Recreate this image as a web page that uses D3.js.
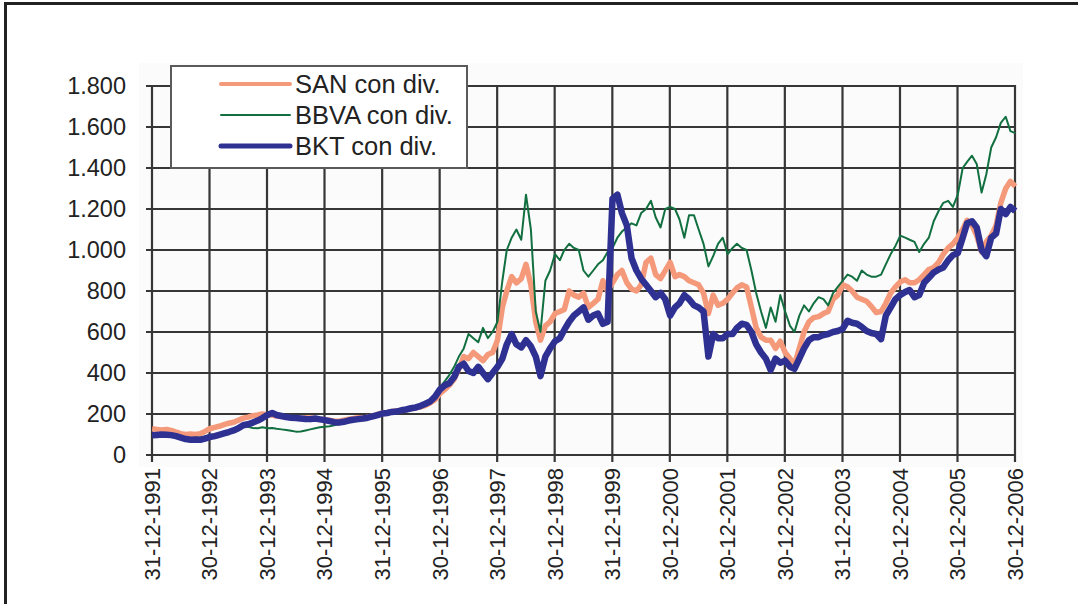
<!DOCTYPE html>
<html lang="es">
<head>
    <meta charset="UTF-8">
    <title>SAN / BBVA / BKT con div.</title>
    <script src="https://d3js.org/d3.v7.min.js"></script>
    <style>
        body { margin: 0; background: #fff; }
        text { font-family: "Liberation Sans", Arial, sans-serif; fill: #222; }
    </style>
</head>
<body>
<script>
    const width  = 1078;
    const height = 604;

    // x tick labels (dates as shown)
    const tickLabels = ["31-12-1991","30-12-1992","30-12-1993","30-12-1994","31-12-1995",
        "30-12-1996","30-12-1997","30-12-1998","31-12-1999","30-12-2000","30-12-2001",
        "30-12-2002","31-12-2003","30-12-2004","30-12-2005","30-12-2006"];
    const yTicks = [0,200,400,600,800,1000,1200,1400,1600,1800];

    // monthly readings, first value = start of 1992, then one per month to end 2006
    const firstMonth = [1992, 0];
    const san = [128,
        125,122,124,120,112,104,100,102,100,104,115,128,
        135,140,148,155,160,170,180,185,192,195,200,195,
        195,190,188,185,182,180,178,182,180,178,175,172,
        170,165,165,170,175,178,182,180,185,190,198,205,
        208,212,215,218,222,225,230,235,242,255,270,300,
        320,340,370,420,480,470,500,480,460,490,500,560,
        720,800,870,840,860,930,830,650,560,630,650,690,
        700,710,800,780,770,790,720,740,760,850,800,840,
        880,900,840,810,800,830,940,960,880,860,900,940,
        870,880,870,850,840,830,790,690,780,730,740,760,
        790,815,830,820,720,620,575,560,560,520,555,500,
        470,440,520,600,650,670,675,690,700,760,780,830,
        820,800,770,760,750,725,695,700,740,790,820,845,
        855,840,840,855,880,905,915,940,980,1010,1030,1060,
        1100,1145,1120,1070,990,1040,1070,1120,1230,1300,1335,1310];
    const bbva = [100,
        102,104,102,100,95,88,82,80,84,85,90,98,
        100,105,110,115,120,130,140,138,132,130,135,130,
        132,128,125,122,118,114,115,120,125,130,135,138,
        140,145,150,155,160,165,170,175,180,185,192,200,
        205,210,215,220,225,230,235,242,252,268,290,330,
        360,390,430,480,520,590,570,550,620,570,600,650,
        850,1000,1060,1100,1050,1270,1100,700,600,850,900,980,
        950,1000,1030,1010,1000,900,870,900,930,950,990,1010,
        1060,1090,1110,1130,1120,1180,1200,1240,1160,1110,1200,1210,
        1200,1150,1060,1170,1170,1100,1030,920,970,1030,1060,980,
        1010,1030,1010,1000,900,790,700,620,720,650,780,700,
        630,600,680,730,700,740,770,760,730,790,820,850,
        880,870,850,900,880,870,870,880,930,980,1020,1070,
        1060,1050,1040,990,1030,1060,1140,1190,1230,1240,1210,1270,
        1400,1430,1460,1420,1280,1370,1500,1550,1620,1650,1580,1570];
    const bkt = [96,
        98,100,99,97,92,85,78,74,76,74,80,88,
        92,98,105,112,120,130,145,150,158,168,180,195,
        205,195,190,185,182,180,178,176,175,178,174,170,
        165,160,158,162,168,172,175,178,182,188,195,202,
        205,210,212,218,222,228,232,240,250,262,285,320,
        340,350,380,430,445,410,400,430,400,370,400,430,
        470,540,590,540,525,560,530,480,385,480,520,555,
        570,610,650,680,700,720,660,680,690,640,650,1250,
        1270,1180,1120,960,900,860,830,800,770,790,760,680,
        720,740,780,760,730,720,700,480,590,570,570,590,
        590,620,640,635,600,540,500,470,415,470,450,460,
        430,420,470,520,560,575,575,585,590,600,605,615,
        655,645,640,625,605,595,590,565,680,720,760,780,
        795,805,770,780,840,865,890,905,915,950,975,985,
        1060,1130,1140,1110,1000,970,1060,1080,1200,1175,1210,1190];

    const seriesNames = ["SAN con div.", "BBVA con div.", "BKT con div."];
    const seriesColors = ["#f4997a", "#127040", "#2e3192"];
    const seriesWidths = [5.5, 2, 6.5];

    const parseDate = d3.timeParse("%d-%m-%Y");
    const tickDates = tickLabels.map(parseDate);
    const monthDate = i => new Date(firstMonth[0], firstMonth[1] + i, 1);

    const scaleX = d3.scaleTime()
            .domain([tickDates[0], tickDates[tickDates.length - 1]])
            .range([152, 1015]);

    const scaleY = d3.scaleLinear()
            .domain([0, 1800])
            .range([455, 86]);

    const svg = d3.select("body").append("svg").attr("width", width).attr("height", height);

    // outer frame (runs off right and bottom edges)
    svg.append("rect")
        .attr("x", 5.5).attr("y", 3.5)
        .attr("width", width + 20).attr("height", height + 20)
        .attr("fill", "#fff")
        .attr("stroke", "#222").attr("stroke-width", 3);

    // plot background
    svg.append("rect")
        .attr("x", 139).attr("y", 63)
        .attr("width", 884).attr("height", 404)
        .attr("fill", "#fbfbfb");

    // grid
    const grid = svg.append("g").attr("stroke", "#363636").attr("stroke-width", 2.2);
    grid.selectAll("line.h").data(yTicks).enter().append("line")
        .attr("class", "h")
        .attr("x1", 146).attr("x2", scaleX.range()[1] + 1)
        .attr("y1", d => scaleY(d)).attr("y2", d => scaleY(d));
    grid.selectAll("line.v").data(tickDates).enter().append("line")
        .attr("class", "v")
        .attr("x1", d => scaleX(d)).attr("x2", d => scaleX(d))
        .attr("y1", scaleY(1800) - 1).attr("y2", scaleY(0) + 7);

    // y axis labels
    const yAxis = d3.axisLeft(scaleY)
            .tickValues(yTicks)
            .tickSize(0)
            .tickPadding(24)
            .tickFormat(d => d3.format(",")(d).replace(",", "."));
    const gy = svg.append("g").attr("transform", "translate(" + [150, 0] + ")").call(yAxis);
    gy.select(".domain").remove();
    gy.selectAll("text").style("font-size", "23.5px").attr("fill", "#222");

    // x axis labels (rotated)
    svg.append("g").selectAll("text").data(tickDates).enter().append("text")
        .attr("transform", (d, i) => "translate(" + [scaleX(d), 468] + ") rotate(-90)")
        .attr("text-anchor", "end")
        .attr("dy", "0.36em")
        .style("font-size", "22px")
        .text((d, i) => tickLabels[i]);

    // lines
    const data = [san, bbva, bkt];
    const line = d3.line()
            .x((d, i) => scaleX(monthDate(i)))
            .y(d => scaleY(d));

    data.forEach((dataset, k) => {
        svg.append("path")
            .datum(dataset)
            .attr("d", line)
            .attr("fill", "none")
            .attr("stroke", seriesColors[k])
            .attr("stroke-width", seriesWidths[k])
            .attr("stroke-linejoin", "round");
    });

    // legend
    const legend = svg.append("g");
    legend.append("rect")
        .attr("x", 171).attr("y", 66)
        .attr("width", 296).attr("height", 102)
        .attr("fill", "#fff")
        .attr("stroke", "#5a5a5a").attr("stroke-width", 2);
    const rowY = [84, 115, 146];
    seriesNames.forEach((name, k) => {
        legend.append("line")
            .attr("x1", 221).attr("x2", 290)
            .attr("y1", rowY[k]).attr("y2", rowY[k])
            .attr("stroke", seriesColors[k])
            .attr("stroke-width", [4, 2, 5][k])
            .attr("stroke-linecap", "round");
        legend.append("text")
            .attr("x", 295).attr("y", rowY[k])
            .attr("dy", "0.36em")
            .style("font-size", "25.5px")
            .text(name);
    });
</script>
</body>
</html>
